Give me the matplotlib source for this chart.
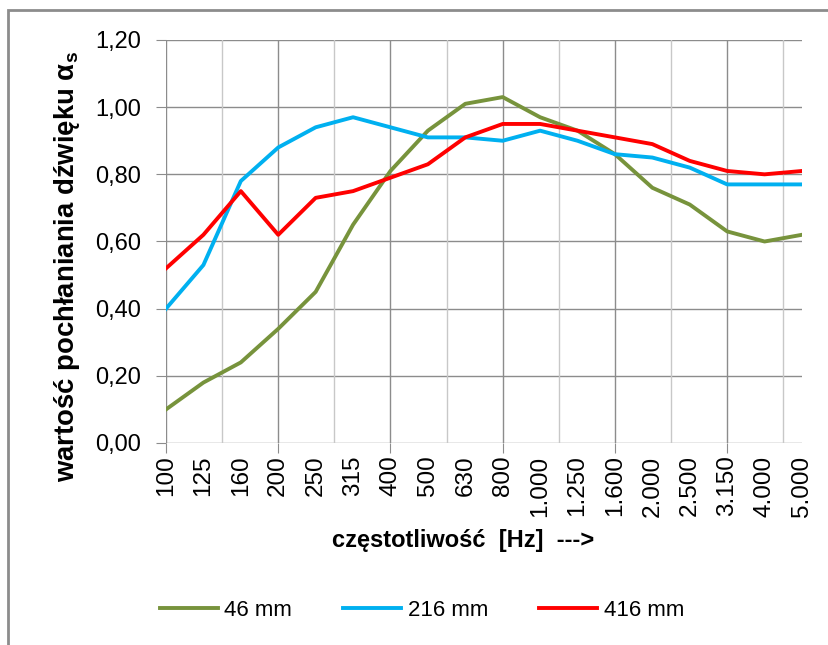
import matplotlib
matplotlib.use("Agg")
import matplotlib.pyplot as plt
from matplotlib.patches import Rectangle
from matplotlib.ticker import FuncFormatter

# ========================
# Data
# ========================
freq_labels = ["100", "125", "160", "200", "250", "315", "400", "500", "630", "800",
               "1.000", "1.250", "1.600", "2.000", "2.500", "3.150", "4.000", "5.000"]

alpha_46 = [0.10, 0.18, 0.24, 0.34, 0.45, 0.65, 0.81, 0.93, 1.01, 1.03,
            0.97, 0.93, 0.86, 0.76, 0.71, 0.63, 0.60, 0.62]
alpha_216 = [0.40, 0.53, 0.78, 0.88, 0.94, 0.97, 0.94, 0.91, 0.91, 0.90,
             0.93, 0.90, 0.86, 0.85, 0.82, 0.77, 0.77, 0.77]
alpha_416 = [0.52, 0.62, 0.75, 0.62, 0.73, 0.75, 0.79, 0.83, 0.91, 0.95,
             0.95, 0.93, 0.91, 0.89, 0.84, 0.81, 0.80, 0.81]

series_names = ["46 mm", "216 mm", "416 mm"]
series_colors = ["#77933C", "#00B0F0", "#FF0000"]

y_ticks = [0.0, 0.2, 0.4, 0.6, 0.8, 1.0, 1.2]

# ========================
# Figure
# ========================
W, H = 829, 645
fig = plt.figure(figsize=(W / 100, H / 100), dpi=100)
fig.patch.set_facecolor("white")

# outer chart border (clipped at right/bottom like the source)
fig.patches.append(Rectangle((8 / W, -0.2), 1.5, 1.2 - 9.5 / H,
                             transform=fig.transFigure, fill=False,
                             edgecolor="#8c8c8c", linewidth=2.0))

ax = fig.add_axes([166 / W, 1 - 443 / H, (802 - 166) / W, (443 - 40) / H])

x = list(range(len(freq_labels)))
for vals, name, col in zip([alpha_46, alpha_216, alpha_416], series_names, series_colors):
    ax.plot(x, vals, color=col, linewidth=2.8, label=name, zorder=3)

ax.set_xlim(0, len(freq_labels) - 1)
ax.set_ylim(0, 1.2)

# gridlines
grid_dark = "#8c8c8c"
grid_light = "#c8c8c8"
for yv in y_ticks:
    ax.axhline(yv, color=grid_dark, linewidth=1.0, zorder=1)
for xv in range(0, len(freq_labels), 3):
    ax.axvline(xv, color=grid_dark, linewidth=1.0, zorder=1)
for k in range(len(freq_labels) // 3):
    ax.axvline(3 * k + 1.5, color=grid_light, linewidth=1.0, zorder=1)

for s in ax.spines.values():
    s.set_visible(False)

font_fam = ["Liberation Sans", "DejaVu Sans"]

ax.set_yticks(y_ticks)
ax.yaxis.set_major_formatter(FuncFormatter(lambda v, p: f"{v:.2f}".replace(".", ",")))
ax.tick_params(axis="y", length=7, color=grid_dark, pad=11)
for lab in ax.get_yticklabels():
    lab.set_fontfamily(font_fam)
    lab.set_fontsize(17)

ax.xaxis.remove_overlapping_locs = False
ax.set_xticks(range(0, len(freq_labels), 3))
ax.set_xticklabels([])
ax.tick_params(axis="x", which="major", length=7, color=grid_dark)
ax.set_xticks(x, minor=True)
ax.set_xticklabels(freq_labels, minor=True, rotation=90, fontfamily=font_fam,
                   fontsize=17.5, va="top", ha="center")
ax.tick_params(axis="x", which="minor", length=0, pad=9)

# axis titles
fig.text(67 / W, 1 - 266 / H, "wartość pochłaniania dźwięku α$_\\mathregular{s}$",
         rotation=90, ha="center", va="center", fontsize=19.8, fontweight="bold",
         family=font_fam)
fig.text(463 / W, 1 - 540 / H, "częstotliwość  [Hz]  --->", ha="center", va="center",
         fontsize=17, fontweight="bold", family=font_fam)

fig.legend(loc="center", bbox_to_anchor=(422 / W, 1 - 610 / H), ncol=3, frameon=False,
           handlelength=2.6, handletextpad=0.3, columnspacing=2.3,
           prop={"family": font_fam, "size": 16})

fig.savefig("out.png", dpi=100)
